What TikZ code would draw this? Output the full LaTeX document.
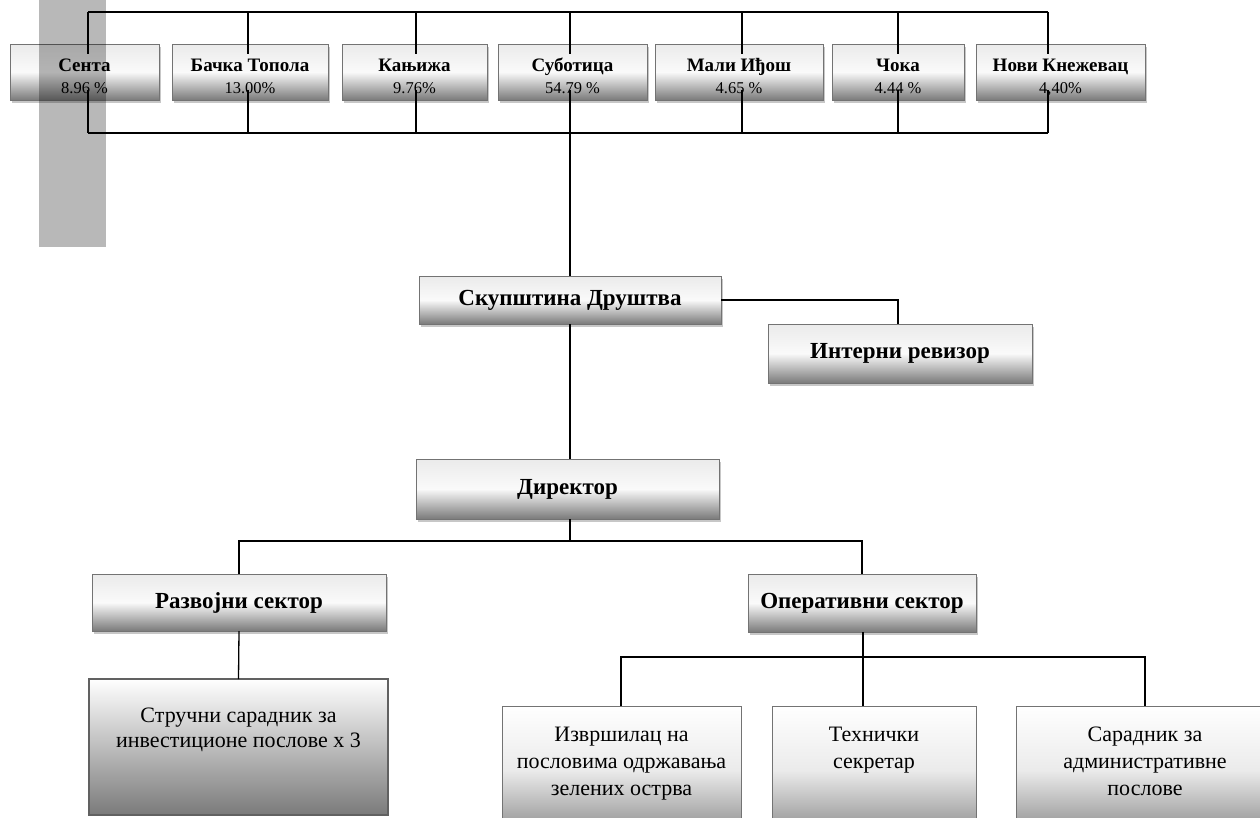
\documentclass[tikz,border=0pt]{standalone}
\usepackage{fontspec}
\setmainfont{Liberation Serif}
\newfontfamily\tnr{Liberation Serif}
\usetikzlibrary{shadows,calc}
\tikzset{
  box/.style={draw=black!55, line width=0.8pt, top color=black!8, bottom color=black!52, middle color=black!2,
    inner sep=0pt, outer sep=0pt, align=center,
    drop shadow={shadow xshift=2pt, shadow yshift=-2.5pt, opacity=0.22, fill=black}},
  lowbox/.style={draw=black!55, line width=0.8pt, top color=white, bottom color=black!45, middle color=black!8,
    inner sep=0pt, outer sep=0pt, align=center},
  conn/.style={draw=black, line width=1.3pt},
  toptxt/.style={font=\tnr\fontsize{16.5}{20}\selectfont},
  midtxt/.style={font=\tnr\fontsize{23}{27}\selectfont\bfseries},
  lowtxt/.style={font=\tnr\fontsize{22}{27}\selectfont, align=center, inner sep=0pt},
}
\newcommand\bx[7][]{%
  \node[box,#1,minimum width={#5pt-#3pt},minimum height={#6pt-#4pt}] (#2) at ({(#3+#5)/2},{(#4+#6)/2}) {#7};}
\newcommand\lbx[7][]{%
  \node[lowbox,#1,minimum width={#5pt-#3pt},minimum height={#6pt-#4pt}] (#2) at ({(#3+#5)/2},{(#4+#6)/2}) {#7};}
\newcommand\nm[2]{{\fontsize{19}{21}\selectfont\bfseries\rule{0pt}{27pt}\strut #1}\\{\strut #2}}
\begin{document}
\begin{tikzpicture}[x=1pt,y=-1pt]
\useasboundingbox (0,0) rectangle (1260,817);
\clip (0,0) rectangle (1260,817);
\fill[white] (0,0) rectangle (1260,817);
% top row
\bx[toptxt]{senta}{10}{44}{159}{100}{\nm{Сента}{8.96 \%}}
\bx[toptxt]{backa}{172}{44}{328}{100}{\nm{Бачка Топола}{13.00\%}}
\bx[toptxt]{kanj}{342}{44}{487}{100}{\nm{Кањижа}{9.76\%}}
\bx[toptxt]{subo}{498}{44}{647}{100}{\nm{Суботица}{54.79 \%}}
\bx[toptxt]{mali}{655}{44}{823}{100}{\nm{Мали Иђош}{4.65 \%}}
\bx[toptxt]{coka}{832}{44}{964}{100}{\nm{Чока}{4.44 \%}}
\bx[toptxt]{novi}{976}{44}{1145}{100}{\nm{Нови Кнежевац}{4,40\%}}
% bus coordinates
\foreach \n/\x in {1/88,2/248,3/416,4/570,5/742,6/898,7/1048}{
  \coordinate (t\n) at (\x,12);
  \coordinate (u\n) at (\x,54);
  \coordinate (v\n) at (\x,90);
  \coordinate (b\n) at (\x,133);
}
\draw[conn] (t1) -- (t7);
\draw[conn] (b1) -- (b7);
\foreach \n in {1,...,7}{
  \draw[conn] (t\n) -- (u\n);
  \draw[conn] (v\n) -- (b\n);
}
% middle
\bx[midtxt]{skup}{419}{276}{721}{324}{Скупштина Друштва}
\bx[midtxt]{inter}{768}{324}{1032}{383}{Интерни ревизор}
\bx[midtxt]{dir}{416}{459}{719}{519}{Директор}
\draw[conn] (b4) -- (skup.north -| b4);
\draw[conn] (skup.east) -| (inter.north -| 898,0);
\draw[conn] (skup.south -| b4) -- (dir.north -| b4);
% sectors
\coordinate (dbus) at (570,541);
\bx[midtxt]{raz}{92}{574}{386}{631}{Развојни сектор}
\bx[midtxt]{oper}{748}{574}{976}{632}{Оперативни сектор}
\draw[conn] (dir.south -| dbus) -- (dbus);
\draw[conn] (raz.north) |- (dbus) -| (oper.north);
% lower boxes
\lbx[draw=black!62, line width=2.6pt, bottom color=black!52]{stru}{89}{679}{388}{815}{}
\node[lowtxt, font=\tnr\fontsize{22}{25}\selectfont, anchor=north] (strut) at ($(stru.north)+(0,29)$) {Стручни сарадник за\\инвестиционе послове х 3};
\draw[conn] (raz.south) -- (stru.north);
\lbx{izv}{502}{706}{741}{835}{}
\lbx{teh}{772}{706}{976}{835}{}
\lbx{sar}{1016}{706}{1274}{835}{}
\node[lowtxt, anchor=north] (izvt) at ($(izv.north)+(0,21)$) {Извршилац на\\пословима одржавања\\зелених острва};
\node[lowtxt, anchor=north] (teht) at ($(teh.north)+(0,21)$) {Технички\\секретар};
\node[lowtxt, anchor=north] (sart) at ($(sar.north)+(0,21)$) {Сарадник за\\административне\\послове};
\coordinate (obus) at (863,657);
\coordinate (obl) at (621,657);
\coordinate (obr) at (1145,657);
\draw[conn] (oper.south -| obus) -- (obus);
\draw[conn] (izv.north -| obl) -- (obl) -- (obr) -- (sar.north -| obr);
\draw[conn] (obus) -- (teh.north -| obus);
% gray overlay strip
\fill[black, opacity=0.28] (39,0) rectangle (106,247);
\end{tikzpicture}
\end{document}
